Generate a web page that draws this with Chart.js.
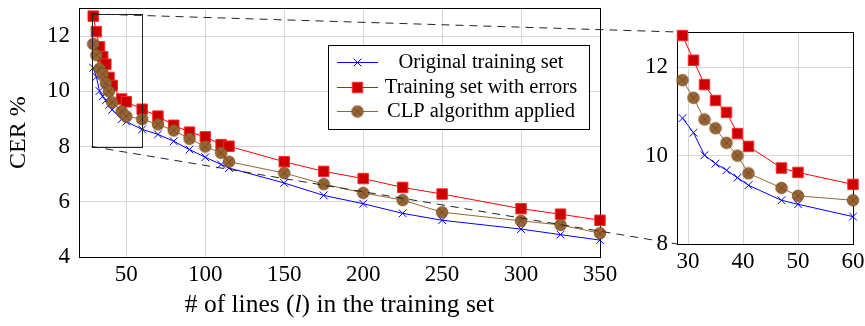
<!DOCTYPE html>
<html>
<head>
<meta charset="utf-8">
<script src="https://cdn.jsdelivr.net/npm/chart.js@4/dist/chart.umd.min.js"></script>
<style>
  html, body { margin: 0; padding: 0; background: #fff; }
  #marco { position: relative; width: 865px; height: 326px; }
  #marco canvas { position: absolute; left: 0; top: 0; }
</style>
</head>
<body>
<div id="marco">
  <canvas id="principal" width="865" height="326"></canvas>
  <canvas id="detalle" width="865" height="326"></canvas>
</div>
<script>
// Datos
const lineas = [29, 31, 33, 35, 37, 39, 41, 47, 50, 60, 70, 80, 90, 100, 110, 115, 150, 175, 200, 225, 250, 300, 325, 350];
const cerOriginal = [10.85, 10.52, 10.01, 9.82, 9.67, 9.50, 9.33, 8.99, 8.90, 8.62, 8.44, 8.19, 7.89, 7.61, 7.35, 7.22, 6.68, 6.23, 5.93, 5.58, 5.33, 5.01, 4.81, 4.61];
const cerErrores = [12.72, 12.16, 11.61, 11.25, 10.98, 10.50, 10.21, 9.72, 9.62, 9.35, 9.10, 8.77, 8.52, 8.35, 8.07, 8.01, 7.45, 7.10, 6.84, 6.52, 6.28, 5.75, 5.55, 5.33];
const cerCLP = [11.71, 11.31, 10.82, 10.62, 10.29, 10.00, 9.60, 9.27, 9.09, 8.99, 8.80, 8.58, 8.28, 8.00, 7.77, 7.45, 7.04, 6.64, 6.32, 6.06, 5.62, 5.31, 5.16, 4.86];
const nombresSeries = ['Original training set', 'Training set with errors', 'CLP algorithm applied'];

// Ejes
const ticksXPrincipal = [50, 100, 150, 200, 250, 300, 350];
const ticksYPrincipal = [4, 6, 8, 10, 12];
const rangoXPrincipal = [20, 350];
const rangoYPrincipal = [4, 13];
const ticksXDetalle = [30, 40, 50, 60];
const ticksYDetalle = [8, 10, 12];
const rangoXDetalle = [28, 60];
const rangoYDetalle = [8, 12.8];

const FUENTE = "'Liberation Serif', 'Times New Roman', serif";

// Marcador círculo con aspa (otimes)
function crearMarcaCirculo() {
  const c = document.createElement('canvas');
  c.width = 14; c.height = 14;
  const g = c.getContext('2d');
  g.beginPath();
  g.arc(7, 7, 5.8, 0, Math.PI * 2);
  g.fillStyle = '#996633';
  g.fill();
  g.lineWidth = 0.8;
  g.strokeStyle = '#7a4f26';
  g.stroke();
  g.beginPath();
  const d = 5.8 * Math.SQRT1_2;
  g.moveTo(7 - d, 7 - d); g.lineTo(7 + d, 7 + d);
  g.moveTo(7 + d, 7 - d); g.lineTo(7 - d, 7 + d);
  g.strokeStyle = '#6b4420';
  g.stroke();
  return c;
}
const marcaCLP = crearMarcaCirculo();

function puntos(ys, maxX) {
  return lineas.map((x, i) => ({ x, y: ys[i] })).filter(p => maxX === undefined || p.x <= maxX);
}

function construirDatasets(maxX) {
  return [
    {
      label: nombresSeries[0],
      data: puntos(cerOriginal, maxX),
      borderColor: '#0000ff',
      backgroundColor: '#0000ff',
      borderWidth: 1,
      pointStyle: 'crossRot',
      pointRadius: 5.5,
      pointBorderWidth: 1,
      pointBorderColor: '#0000ff',
      order: 2,
      clip: false
    },
    {
      label: nombresSeries[1],
      data: puntos(cerErrores, maxX),
      borderColor: '#ff0000',
      backgroundColor: '#cc0000',
      borderWidth: 1,
      pointStyle: 'rect',
      pointRadius: 7.4,
      pointBorderWidth: 1,
      pointBorderColor: '#ff2a2a',
      pointBackgroundColor: '#cc0000',
      order: 1,
      clip: false
    },
    {
      label: nombresSeries[2],
      data: puntos(cerCLP, maxX),
      borderColor: '#996633',
      backgroundColor: '#996633',
      borderWidth: 1,
      pointStyle: marcaCLP,
      pointRadius: 6,
      order: 0,
      clip: false
    }
  ];
}

function ejes(cfg) {
  const fuenteTicks = { family: FUENTE, size: cfg.tamTicks };
  return {
    x: {
      type: 'linear',
      min: cfg.rangoX[0], max: cfg.rangoX[1],
      afterBuildTicks: s => { s.ticks = cfg.ticksX.map(v => ({ value: v })); },
      afterFit: s => { s.height = cfg.altoX; s.paddingLeft = 0; s.paddingRight = 0; },
      grid: { color: '#d6d6d6', drawTicks: false },
      border: { color: '#000', width: 1 },
      ticks: { color: '#000', font: fuenteTicks, padding: cfg.padX, autoSkip: false, maxRotation: 0 }
    },
    y: {
      type: 'linear',
      min: cfg.rangoY[0], max: cfg.rangoY[1],
      afterBuildTicks: s => { s.ticks = cfg.ticksY.map(v => ({ value: v })); },
      afterFit: s => { s.width = cfg.anchoY; s.paddingTop = 0; s.paddingBottom = 0; },
      grid: { color: '#d6d6d6', drawTicks: false },
      border: { color: '#000', width: 1 },
      ticks: { color: '#000', font: fuenteTicks, padding: 9 },
      title: cfg.tituloY ? {
        display: true, text: cfg.tituloY, color: '#000',
        font: { family: FUENTE, size: 24 }, padding: { top: 4, bottom: 0 }
      } : { display: false }
    }
  };
}

// Caja completa del eje
const marcoEjes = {
  id: 'marcoEjes',
  beforeDatasetsDraw(chart) {
    const { ctx, chartArea: a } = chart;
    ctx.save();
    ctx.strokeStyle = '#000';
    ctx.lineWidth = 1;
    ctx.strokeRect(Math.round(a.left) + 0.5, Math.round(a.top) + 0.5, Math.round(a.right - a.left), Math.round(a.bottom - a.top));
    ctx.restore();
  }
};

// Rectángulo de la zona ampliada, leyenda y título X
const extrasPrincipal = {
  id: 'extrasPrincipal',
  afterDatasetsDraw(chart) {
    const { ctx, scales: { x, y } } = chart;
    ctx.save();
    ctx.strokeStyle = '#222';
    ctx.lineWidth = 1;
    const x0 = Math.round(x.getPixelForValue(rangoXDetalle[0])) + 0.5;
    const x1 = Math.round(x.getPixelForValue(rangoXDetalle[1])) + 0.5;
    const y0 = Math.round(y.getPixelForValue(rangoYDetalle[1])) + 0.5;
    const y1 = Math.round(y.getPixelForValue(rangoYDetalle[0])) + 0.5;
    ctx.strokeRect(x0, y0, x1 - x0, y1 - y0);
    ctx.restore();
  },
  afterDraw(chart) {
    const { ctx } = chart;
    ctx.save();
    // Leyenda
    const caja = { x: 328.5, y: 45.5, w: 261, h: 84 };
    ctx.fillStyle = '#fff';
    ctx.fillRect(caja.x, caja.y, caja.w, caja.h);
    ctx.strokeStyle = '#000';
    ctx.lineWidth = 1;
    ctx.strokeRect(caja.x, caja.y, caja.w, caja.h);
    const filas = [62, 87, 111];
    ctx.font = `20.5px ${FUENTE}`;
    ctx.textAlign = 'center';
    ctx.textBaseline = 'middle';
    chart.data.datasets.forEach((ds, i) => {
      const fy = filas[i];
      ctx.beginPath();
      ctx.strokeStyle = ds.borderColor;
      ctx.lineWidth = 1;
      ctx.moveTo(337, fy + 0.5);
      ctx.lineTo(378, fy + 0.5);
      ctx.stroke();
      const mx = 357.5;
      if (ds.pointStyle instanceof HTMLCanvasElement) {
        ctx.drawImage(ds.pointStyle, mx - ds.pointStyle.width / 2, fy - ds.pointStyle.height / 2 + 0.5);
      } else {
        ctx.fillStyle = ds.pointBackgroundColor || ds.backgroundColor;
        ctx.strokeStyle = ds.pointBorderColor;
        ctx.lineWidth = ds.pointBorderWidth;
        Chart.helpers.drawPoint(ctx, {
          pointStyle: ds.pointStyle, radius: ds.pointRadius, borderWidth: ds.pointBorderWidth, rotation: 0
        }, mx, fy + 0.5);
      }
      ctx.fillStyle = '#000';
      ctx.fillText(ds.label, 481, fy + 1);
    });
    // Título del eje X con la l en cursiva
    const partes = [
      { t: '# of lines (', f: `25.5px ${FUENTE}` },
      { t: 'l', f: `italic 25.5px ${FUENTE}` },
      { t: ') in the training set', f: `25.5px ${FUENTE}` }
    ];
    let total = 0;
    partes.forEach(p => { ctx.font = p.f; p.w = ctx.measureText(p.t).width; total += p.w; });
    const a = chart.chartArea;
    let px = (a.left + a.right) / 2 - total / 2;
    ctx.textAlign = 'left';
    ctx.textBaseline = 'middle';
    ctx.fillStyle = '#000';
    partes.forEach(p => { ctx.font = p.f; ctx.fillText(p.t, px, 305); px += p.w; });
    ctx.restore();
  }
};

const graficoPrincipal = new Chart(document.getElementById('principal'), {
  type: 'line',
  data: { datasets: construirDatasets() },
  options: {
    responsive: false,
    animation: false,
    devicePixelRatio: 1,
    layout: { padding: { left: 0, right: 265, top: 8, bottom: 0 } },
    plugins: { legend: { display: false }, tooltip: { enabled: false } },
    scales: ejes({
      rangoX: rangoXPrincipal, rangoY: rangoYPrincipal,
      ticksX: ticksXPrincipal, ticksY: ticksYPrincipal,
      altoX: 69, anchoY: 79, tamTicks: 23, padX: 4, tituloY: 'CER %'
    })
  },
  plugins: [marcoEjes, extrasPrincipal]
});

// Líneas discontinuas entre el rectángulo y el detalle
const conectores = {
  id: 'conectores',
  afterDraw(chart) {
    const { ctx, chartArea: a } = chart;
    const sx = graficoPrincipal.scales.x, sy = graficoPrincipal.scales.y;
    const xr = sx.getPixelForValue(rangoXDetalle[0]);
    const yt = sy.getPixelForValue(rangoYDetalle[1]);
    const yb = sy.getPixelForValue(rangoYDetalle[0]);
    ctx.save();
    ctx.strokeStyle = '#222';
    ctx.lineWidth = 1;
    ctx.setLineDash([8, 6]);
    ctx.beginPath();
    ctx.moveTo(xr, yt); ctx.lineTo(a.left, a.top);
    ctx.moveTo(xr, yb); ctx.lineTo(a.left, a.bottom);
    ctx.stroke();
    ctx.restore();
  }
};

new Chart(document.getElementById('detalle'), {
  type: 'line',
  data: { datasets: construirDatasets(rangoXDetalle[1]) },
  options: {
    responsive: false,
    animation: false,
    devicePixelRatio: 1,
    layout: { padding: { left: 637, right: 12, top: 32, bottom: 0 } },
    plugins: { legend: { display: false }, tooltip: { enabled: false } },
    scales: ejes({
      rangoX: rangoXDetalle, rangoY: rangoYDetalle,
      ticksX: ticksXDetalle, ticksY: ticksYDetalle,
      altoX: 82, anchoY: 40, tamTicks: 23, padX: 4
    })
  },
  plugins: [marcoEjes, conectores]
});
</script>
</body>
</html>
